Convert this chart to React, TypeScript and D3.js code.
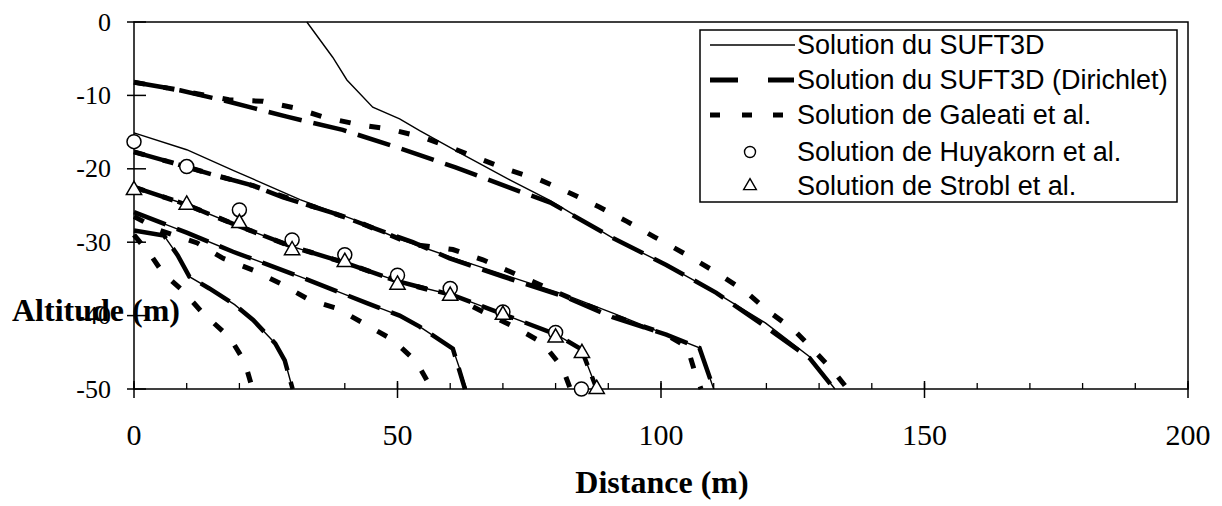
import React from "react";
import * as d3 from "d3";

type Pt = [number, number];

const xTicks = [0, 50, 100, 150, 200];
const yTicks = [0, -10, -20, -30, -40, -50];
const xMinor = d3.range(0, 201, 10);

const legendLabels = [
  "Solution du SUFT3D",
  "Solution du SUFT3D (Dirichlet)",
  "Solution de Galeati et al.",
  "Solution de Huyakorn et al.",
  "Solution de Strobl et al.",
];

// Solution du SUFT3D (thin solid), one curve per time step
const suftA: Pt[] = [[32.8, 0], [37.7, -4.8], [40.4, -7.9], [45.3, -11.6], [50.4, -13.2], [54.2, -14.8], [62, -17.9], [71.3, -21.5], [78.9, -24.3], [90.8, -29.4], [101, -33.1], [110.5, -36.9], [119.8, -41], [128.2, -45.6], [133, -50]];
const suftB: Pt[] = [[0, -15.1], [10, -17.4], [18.8, -20.2], [31.5, -24.2], [42, -27], [50.4, -29.6], [60, -32], [71.3, -34.7], [82, -37.2], [91, -39.7], [101, -42.6], [107.3, -44.4], [110, -50]];
const suftC: Pt[] = [[0, -22.5], [10, -24.9], [18.8, -27.5], [29.6, -30.5], [40, -32.8], [50, -35.3], [54.2, -36.1], [60.5, -37.2], [70, -39.8], [80.2, -42.6], [84.9, -44.6], [87.8, -50]];
const suftD: Pt[] = [[0, -25.9], [10, -28.7], [18.8, -31.3], [31.5, -34.7], [44.2, -38.3], [50.4, -40], [54.2, -41.5], [60.5, -44.5], [63.1, -50]];
const suftE: Pt[] = [[0, -28.4], [5.7, -29.1], [8.3, -31.8], [10.5, -34.7], [14.3, -36.3], [19.1, -38.5], [22.6, -40.6], [26.8, -43.8], [28.6, -46.1], [30.1, -50]];

// Solution du SUFT3D (Dirichlet), bold dashes
const dirA: Pt[] = [[0, -8.2], [8.7, -9.3], [18.2, -10.9], [29, -12.9], [39.6, -14.7], [50.4, -17.2], [61, -19.8], [71, -22.5], [79, -24.6], [90.8, -29.4], [101, -33.1], [110.5, -36.9], [119.6, -41.4], [128.2, -45.8], [132.9, -50]];
const dirB: Pt[] = [[0, -17.7], [7.4, -19.2], [15, -20.8], [22.6, -22.3], [28.3, -23.9], [37.7, -26], [49, -29], [52.9, -30], [59.9, -32.2], [70, -34.7], [82, -37.5], [90.8, -40.2], [101, -42.6], [107.3, -44.4], [110, -50]];
const dirC: Pt[] = [[0, -22.5], [10, -24.9], [18.8, -27.5], [29.6, -30.5], [40, -32.8], [50, -35.3], [54.2, -36.1], [60.5, -37.2], [70, -39.8], [80.2, -42.6], [84.9, -44.6], [87.8, -50]];
const dirD: Pt[] = [[0, -25.9], [10, -28.7], [18.8, -31.3], [31.5, -34.7], [44.2, -38.3], [50.4, -40], [54.2, -41.5], [60.5, -44.5], [62.8, -50]];
const dirE: Pt[] = [[0, -28.4], [5.7, -29.1], [8.3, -31.8], [10.5, -34.7], [14.3, -36.3], [19.1, -38.5], [22.6, -40.6], [26.8, -43.8], [28.6, -46.1], [30.1, -50]];

// Solution de Galeati et al., short dashes
const galA: Pt[] = [[0, -8.2], [8.7, -9.3], [18, -10.6], [24.5, -10.8], [30.5, -11.7], [36.2, -13], [42.8, -14], [48.5, -14.6], [54.8, -15.7], [60.5, -17.2], [66.2, -18.8], [71.3, -20.2], [77, -21.5], [82.7, -23.3], [88.3, -25.2], [93.6, -27.2], [98.8, -29.3], [104.8, -31.7], [110.7, -34.2], [116.2, -36.8], [120, -39.2], [125.3, -42], [129.5, -45.1], [133, -47.8], [135.4, -50]];
const galB: Pt[] = [[0, -17.7], [7.4, -19.2], [15, -20.8], [22.6, -22.3], [30, -24.2], [41, -26.8], [52.9, -30.3], [60.5, -31], [66.2, -32.4], [71.3, -34], [84, -38], [91.6, -40.2], [101, -42.6], [105, -44.3], [106.3, -47.4], [107.6, -50]];
const galC: Pt[] = [[0, -22.5], [10, -24.9], [18.8, -27.5], [29.6, -30.5], [40, -32.8], [50, -35.3], [60.5, -37.4], [66, -39.4], [72.6, -41.7], [77.5, -43.7], [81.3, -47.1], [82.8, -50]];
const galD: Pt[] = [[0, -26.5], [5, -28.4], [12, -30.1], [16.9, -32.2], [22.6, -33.8], [27.7, -35.6], [33.4, -37.9], [38.5, -39], [44.2, -41.3], [49.1, -43.3], [53.6, -46.3], [56.5, -50]];
const galE: Pt[] = [[0, -29], [3.4, -32], [5.5, -34.2], [9.1, -36.5], [13.1, -39.7], [18.2, -43], [21, -46.3], [22.5, -50]];

// Solution de Huyakorn et al. (circles) and Strobl et al. (triangles)
const huyakorn: Pt[] = [[0, -16.3], [10, -19.7], [20, -25.6], [30, -29.7], [40, -31.7], [50, -34.5], [60, -36.3], [70, -39.5], [80, -42.3], [84.9, -50]];
const strobl: Pt[] = [[0, -22.9], [10, -24.9], [20, -27.4], [30, -31.1], [40, -32.7], [50, -35.8], [60, -37.3], [70, -39.9], [80, -43], [85, -45.1], [87.8, -50]];

const suftCurves = [suftA, suftB, suftC, suftD, suftE];
const dirCurves = [dirA, dirB, dirC, dirD, dirE];
const galCurves = [galA, galB, galC, galD, galE];

const serif = "'Liberation Serif', 'Times New Roman', serif";
const sans = "'Liberation Sans', Arial, sans-serif";

export default function App() {
  const width = 1222;
  const height = 506;

  const x = d3.scaleLinear().domain([0, 200]).range([134, 1188]);
  const y = d3.scaleLinear().domain([0, -50]).range([22, 389]);
  const line = d3.line<Pt>().x((d) => x(d[0])).y((d) => y(d[1]));
  const tri = d3.symbol().type(d3.symbolTriangle).size(100)();
  const triSmall = d3.symbol().type(d3.symbolTriangle).size(70)();

  // legend geometry
  const lg = { x0: 700, y0: 30, x1: 1177, y1: 202, textX: 797 };
  const rowY = [45, 80, 115, 152, 186];

  return (
    <svg
      width={width}
      height={height}
      style={{ position: "absolute", left: 0, top: 0, display: "block", background: "#fff" }}
    >
      {/* frame */}
      <rect x={x(0)} y={y(0)} width={x(200) - x(0)} height={y(-50) - y(0)} fill="none" stroke="#000" strokeWidth={1.5} />

      {/* y ticks */}
      {yTicks.map((t) => (
        <g key={"yt" + t}>
          <line x1={x(0) - 7} x2={x(0) + 12} y1={y(t)} y2={y(t)} stroke="#000" strokeWidth={1.5} />
          <text x={111} y={y(t)} textAnchor="end" dominantBaseline="central" fontFamily={serif} fontSize={26}>
            {t}
          </text>
        </g>
      ))}

      {/* x ticks */}
      {xMinor.map((t) => (
        <line key={"xm" + t} x1={x(t)} x2={x(t)} y1={y(-50)} y2={y(-50) - 6} stroke="#000" strokeWidth={1.3} />
      ))}
      {xTicks.map((t) => (
        <g key={"xt" + t}>
          <line x1={x(t)} x2={x(t)} y1={y(-50) - 8} y2={y(-50) + 9} stroke="#000" strokeWidth={1.5} />
          <text x={x(t)} y={445} textAnchor="middle" fontFamily={serif} fontSize={30}>
            {t}
          </text>
        </g>
      ))}

      {/* curves */}
      {suftCurves.map((c, i) => (
        <path key={"s" + i} d={line(c) ?? ""} fill="none" stroke="#000" strokeWidth={1.4} />
      ))}
      {dirCurves.map((c, i) => (
        <path key={"d" + i} d={line(c) ?? ""} fill="none" stroke="#000" strokeWidth={4.5} strokeDasharray="34,12" />
      ))}
      {galCurves.map((c, i) => (
        <path key={"g" + i} d={line(c) ?? ""} fill="none" stroke="#000" strokeWidth={5} strokeDasharray="11,19" />
      ))}

      {huyakorn.map((d, i) => (
        <circle key={"h" + i} cx={x(d[0])} cy={y(d[1])} r={7} fill="#fff" stroke="#000" strokeWidth={1.5} />
      ))}
      {strobl.map((d, i) => (
        <path key={"t" + i} d={tri ?? ""} transform={`translate(${x(d[0])},${y(d[1])})`} fill="#fff" stroke="#000" strokeWidth={1.5} />
      ))}

      {/* axis titles */}
      <text x={12} y={321} fontFamily={serif} fontWeight="bold" fontSize={32}>
        Altitude (m)
      </text>
      <text x={662} y={493} textAnchor="middle" fontFamily={serif} fontWeight="bold" fontSize={32}>
        Distance (m)
      </text>

      {/* legend */}
      <rect x={lg.x0} y={lg.y0} width={lg.x1 - lg.x0} height={lg.y1 - lg.y0} fill="#fff" stroke="#000" strokeWidth={1.5} />
      <line x1={710} x2={795} y1={rowY[0]} y2={rowY[0]} stroke="#000" strokeWidth={1.4} />
      <line x1={710} x2={738} y1={rowY[1]} y2={rowY[1]} stroke="#000" strokeWidth={5} />
      <line x1={768} x2={794} y1={rowY[1]} y2={rowY[1]} stroke="#000" strokeWidth={5} />
      {[710, 742, 773].map((sx) => (
        <line key={"lg" + sx} x1={sx} x2={sx + 10} y1={rowY[2]} y2={rowY[2]} stroke="#000" strokeWidth={5} />
      ))}
      <circle cx={750} cy={rowY[3]} r={5.5} fill="#fff" stroke="#000" strokeWidth={1.4} />
      <path d={triSmall ?? ""} transform={`translate(750,${rowY[4]})`} fill="#fff" stroke="#000" strokeWidth={1.4} />
      {legendLabels.map((l, i) => (
        <text key={l} x={lg.textX} y={rowY[i]} dominantBaseline="central" fontFamily={sans} fontSize={27}>
          {l}
        </text>
      ))}
    </svg>
  );
}
